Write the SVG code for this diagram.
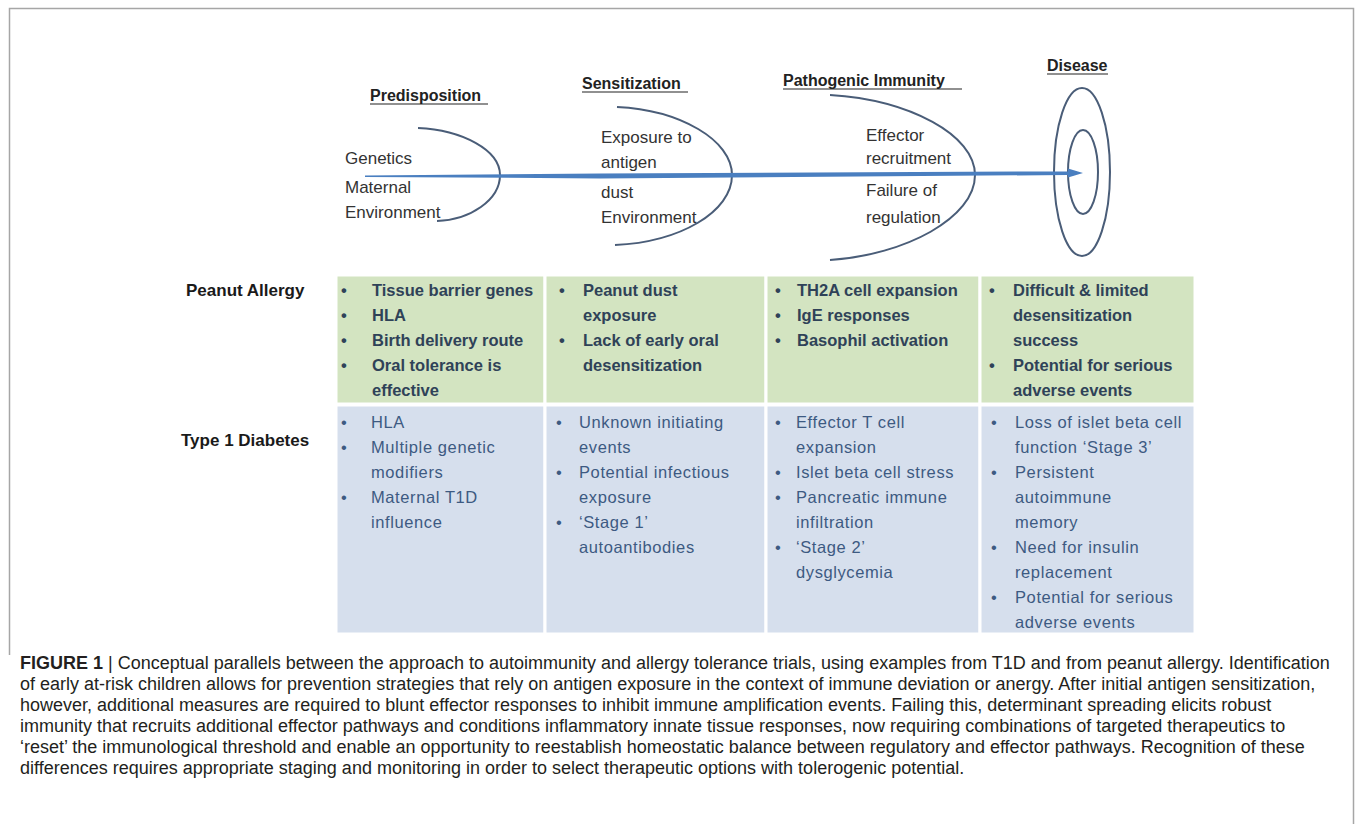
<svg xmlns="http://www.w3.org/2000/svg" width="1355" height="824" viewBox="0 0 1355 824">
<style>
.hdr{font-family:"Liberation Sans",Arial,sans-serif;font-weight:bold;font-size:16px;fill:#222}
.ul{stroke:#222;stroke-width:1.2}
.top{font-family:"Liberation Sans",Arial,sans-serif;font-size:17px;fill:#333}
.arc{fill:none;stroke:#4a5d78;stroke-width:2}
.lbl{font-family:"Liberation Sans",Arial,sans-serif;font-weight:bold;font-size:17px;fill:#1a1a1a}
.g{font-family:"Liberation Sans",Arial,sans-serif;font-weight:bold;font-size:16.5px;fill:#2f4258}
.b{font-family:"Liberation Sans",Arial,sans-serif;font-size:16.5px;letter-spacing:0.6px;fill:#3d5a82}
.cellg{fill:#d3e4c1;stroke:#fff;stroke-width:3}
.cellb{fill:#d6dfed;stroke:#fff;stroke-width:3}
.cap{font-family:"Liberation Sans",Arial,sans-serif;font-size:18px;fill:#231f20}
</style>
<path d="M9.5,655 V8.5 H1353.5 V830" fill="none" stroke="#a6a6a6" stroke-width="1.5"/>

<g id="predisposition">
<text class="hdr" x="370" y="101">Predisposition</text>
<line class="ul" x1="370" y1="104" x2="488" y2="104"/>
<path class="arc" d="M418,128 C462,130 500,150 500,175 C500,200 470,220 437,221"/>
<text class="top" x="345" y="164">Genetics</text>
<text class="top" x="345" y="193">Maternal</text>
<text class="top" x="345" y="218">Environment</text>
</g>

<g id="sensitization">
<text class="hdr" x="582" y="89">Sensitization</text>
<line class="ul" x1="582" y1="92" x2="688" y2="92"/>
<path class="arc" d="M617,107 C680,110 732,140 732,175 C732,212 680,242 615,245"/>
<text class="top" x="601" y="143">Exposure to</text>
<text class="top" x="601" y="168">antigen</text>
<text class="top" x="601" y="198">dust</text>
<text class="top" x="601" y="223">Environment</text>
</g>

<g id="pathogenic">
<text class="hdr" x="783" y="86" font-size="16.5">Pathogenic Immunity</text>
<line class="ul" x1="783" y1="89" x2="962" y2="89"/>
<path class="arc" d="M830,95 C910,100 975,135 975,175 C975,218 905,255 830,260"/>
<text class="top" x="866" y="141">Effector</text>
<text class="top" x="866" y="164">recruitment</text>
<text class="top" x="866" y="196">Failure of</text>
<text class="top" x="866" y="223">regulation</text>
</g>

<g id="disease">
<text class="hdr" x="1047" y="71">Disease</text>
<line class="ul" x1="1047" y1="74" x2="1108" y2="74"/>
<ellipse class="arc" cx="1082" cy="172" rx="28" ry="84"/>
<ellipse class="arc" cx="1083" cy="172" rx="15" ry="42"/>
</g>

<g id="connectors">
<polygon points="365,175.5 600,173.4 1068,171.4 1068,168.5 1083,173 1068,177.5 1068,175 600,178.4 365,177" fill="#4a7fc0"/>
</g>

<g id="row-labels">
<text class="lbl" x="186" y="296">Peanut Allergy</text>
<text class="lbl" x="181" y="446">Type 1 Diabetes</text>
</g>

<g id="peanut-row">
<rect class="cellg" x="336" y="275" width="209" height="129"/>
<rect class="cellg" x="545" y="275" width="221" height="129"/>
<rect class="cellg" x="766" y="275" width="214" height="129"/>
<rect class="cellg" x="980" y="275" width="215" height="129"/>
<g class="g">
<text x="341" y="296">•</text><text x="372" y="296">Tissue barrier genes</text>
<text x="341" y="321">•</text><text x="372" y="321">HLA</text>
<text x="341" y="346">•</text><text x="372" y="346">Birth delivery route</text>
<text x="341" y="371">•</text><text x="372" y="371">Oral tolerance is</text>
<text x="372" y="396">effective</text>
<text x="559" y="296">•</text><text x="583" y="296">Peanut dust</text>
<text x="583" y="321">exposure</text>
<text x="559" y="346">•</text><text x="583" y="346">Lack of early oral</text>
<text x="583" y="371">desensitization</text>
<text x="775" y="296">•</text><text x="797" y="296">TH2A cell expansion</text>
<text x="775" y="321">•</text><text x="797" y="321">IgE responses</text>
<text x="775" y="346">•</text><text x="797" y="346">Basophil activation</text>
<text x="989" y="296">•</text><text x="1013" y="296">Difficult &amp; limited</text>
<text x="1013" y="321">desensitization</text>
<text x="1013" y="346">success</text>
<text x="989" y="371">•</text><text x="1013" y="371">Potential for serious</text>
<text x="1013" y="396">adverse events</text>
</g>
</g>

<g id="t1d-row">
<rect class="cellb" x="336" y="405" width="209" height="229"/>
<rect class="cellb" x="545" y="405" width="221" height="229"/>
<rect class="cellb" x="766" y="405" width="214" height="229"/>
<rect class="cellb" x="980" y="405" width="215" height="229"/>
<g class="b">
<text x="341" y="428">•</text><text x="371" y="428">HLA</text>
<text x="341" y="453">•</text><text x="371" y="453">Multiple genetic</text>
<text x="371" y="478">modifiers</text>
<text x="341" y="503">•</text><text x="371" y="503">Maternal T1D</text>
<text x="371" y="528">influence</text>
<text x="556" y="428">•</text><text x="579" y="428">Unknown initiating</text>
<text x="579" y="453">events</text>
<text x="556" y="478">•</text><text x="579" y="478">Potential infectious</text>
<text x="579" y="503">exposure</text>
<text x="556" y="528">•</text><text x="579" y="528">‘Stage 1’</text>
<text x="579" y="553">autoantibodies</text>
<text x="775" y="428">•</text><text x="796" y="428">Effector T cell</text>
<text x="796" y="453">expansion</text>
<text x="775" y="478">•</text><text x="796" y="478">Islet beta cell stress</text>
<text x="775" y="503">•</text><text x="796" y="503">Pancreatic immune</text>
<text x="796" y="528">infiltration</text>
<text x="775" y="553">•</text><text x="796" y="553">‘Stage 2’</text>
<text x="796" y="578">dysglycemia</text>
<text x="991" y="428">•</text><text x="1015" y="428">Loss of islet beta cell</text>
<text x="1015" y="453">function ‘Stage 3’</text>
<text x="991" y="478">•</text><text x="1015" y="478">Persistent</text>
<text x="1015" y="503">autoimmune</text>
<text x="1015" y="528">memory</text>
<text x="991" y="553">•</text><text x="1015" y="553">Need for insulin</text>
<text x="1015" y="578">replacement</text>
<text x="991" y="603">•</text><text x="1015" y="603">Potential for serious</text>
<text x="1015" y="628">adverse events</text>
</g>
</g>

<g id="caption" class="cap">
<text x="20" y="669"><tspan font-weight="bold">FIGURE 1</tspan> | Conceptual parallels between the approach to autoimmunity and allergy tolerance trials, using examples from T1D and from peanut allergy. Identification</text>
<text x="20" y="690">of early at-risk children allows for prevention strategies that rely on antigen exposure in the context of immune deviation or anergy. After initial antigen sensitization,</text>
<text x="20" y="711">however, additional measures are required to blunt effector responses to inhibit immune amplification events. Failing this, determinant spreading elicits robust</text>
<text x="20" y="732">immunity that recruits additional effector pathways and conditions inflammatory innate tissue responses, now requiring combinations of targeted therapeutics to</text>
<text x="20" y="753">‘reset’ the immunological threshold and enable an opportunity to reestablish homeostatic balance between regulatory and effector pathways. Recognition of these</text>
<text x="20" y="774">differences requires appropriate staging and monitoring in order to select therapeutic options with tolerogenic potential.</text>
</g>
</svg>
